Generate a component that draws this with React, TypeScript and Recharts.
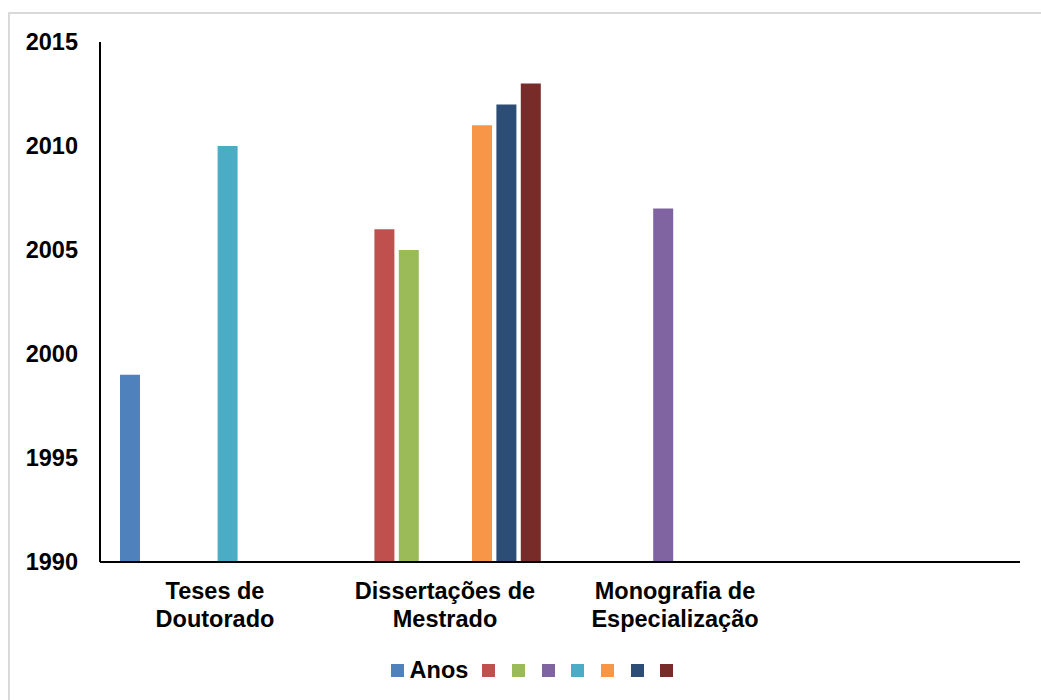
import React from "react";
import { BarChart, Bar, XAxis, YAxis, Legend } from "recharts";

const categories = [
  "Teses de Doutorado",
  "Dissertações de Mestrado",
  "Monografia de Especialização",
  "",
];

// one value per category, null where the series has no bar
const anos = [1999, null, null, null];
const serie2 = [null, 2006, null, null];
const serie3 = [null, 2005, null, null];
const serie4 = [null, null, 2007, null];
const serie5 = [2010, null, null, null];
const serie6 = [null, 2011, null, null];
const serie7 = [null, 2012, null, null];
const serie8 = [null, 2013, null, null];

const yTicks = [1990, 1995, 2000, 2005, 2010, 2015];

const series = [
  { key: "anos", name: "Anos", values: anos, color: "#4F81BD" },
  { key: "s2", name: "", values: serie2, color: "#C0504D" },
  { key: "s3", name: "", values: serie3, color: "#9BBB59" },
  { key: "s4", name: "", values: serie4, color: "#8064A2" },
  { key: "s5", name: "", values: serie5, color: "#4BACC6" },
  { key: "s6", name: "", values: serie6, color: "#F79646" },
  { key: "s7", name: "", values: serie7, color: "#2C4D75" },
  { key: "s8", name: "", values: serie8, color: "#772C2A" },
];

const data = categories.map((cat, i) => {
  const row: Record<string, string | number | null> = { cat };
  series.forEach((s) => {
    row[s.key] = s.values[i];
  });
  return row;
});

const FONT = '"Liberation Sans", Arial, sans-serif';

function CategoryTick(props: any) {
  const { x, y, payload } = props;
  const lines: string[] = String(payload.value).split(/(?<= de) /);
  return (
    <text
      x={x}
      y={y}
      textAnchor="middle"
      fontFamily={FONT}
      fontWeight="bold"
      fontSize={23.5}
      fill="#000"
    >
      {lines.map((ln, i) => (
        <tspan key={i} x={x} y={y + 37 + i * 28}>
          {ln}
        </tspan>
      ))}
    </text>
  );
}

function LegendContent(props: any) {
  const payload: any[] = props.payload || [];
  // keep the series order instead of the legend's alphabetical sort
  const order = series.map((s) => s.key);
  const items = [...payload].sort(
    (a, b) => order.indexOf(String(a.dataKey)) - order.indexOf(String(b.dataKey))
  );
  return (
    <div
      style={{
        display: "flex",
        justifyContent: "center",
        alignItems: "center",
        height: 24,
        paddingLeft: 44,
        fontFamily: FONT,
        fontWeight: "bold",
        fontSize: 23.5,
        color: "#000",
      }}
    >
      {items.map((entry: any, i: number) => (
        <div
          key={i}
          style={{
            display: "flex",
            alignItems: "center",
            marginRight: i === items.length - 1 ? 0 : entry.value ? 14 : 16.7,
          }}
        >
          <span
            style={{
              display: "inline-block",
              width: 13,
              height: 13,
              background: entry.color,
            }}
          />
          {entry.value ? (
            <span style={{ marginLeft: 6, lineHeight: "24px" }}>{entry.value}</span>
          ) : null}
        </div>
      ))}
    </div>
  );
}

export default function App() {
  return (
    <div style={{ position: "absolute", left: 0, top: 0, width: 1041, height: 700, overflow: "hidden", background: "#fff" }}>
      <div
        style={{
          position: "absolute",
          left: 8,
          top: 12,
          width: 1060,
          height: 720,
          borderTop: "2px solid #d9d9d9",
          borderLeft: "2px solid #d9d9d9",
        }}
      />
      <div style={{ position: "absolute", left: 0, top: 0 }}>
        <BarChart
          width={1041}
          height={700}
          data={data}
          margin={{ top: 42, right: 21, left: 0, bottom: 18 }}
          barCategoryGap={20}
          barGap={4.4}
        >
          <XAxis
            dataKey="cat"
            height={96}
            interval={0}
            tickLine={false}
            tickSize={0}
            tickMargin={0}
            axisLine={{ stroke: "#000", strokeWidth: 2 }}
            tick={<CategoryTick />}
          />
          <YAxis
            width={100}
            domain={[1990, 2015]}
            ticks={yTicks}
            interval={0}
            allowDataOverflow
            tickLine={false}
            tickSize={0}
            tickMargin={22}
            axisLine={{ stroke: "#000", strokeWidth: 2 }}
            tick={{ fontFamily: FONT, fontWeight: "bold", fontSize: 23.5, fill: "#000" }}
          />
          <Legend verticalAlign="bottom" content={<LegendContent />} />
          {series.map((s) => (
            <Bar
              key={s.key}
              dataKey={s.key}
              name={s.name}
              fill={s.color}
              isAnimationActive={false}
              legendType="square"
            />
          ))}
        </BarChart>
      </div>
    </div>
  );
}
